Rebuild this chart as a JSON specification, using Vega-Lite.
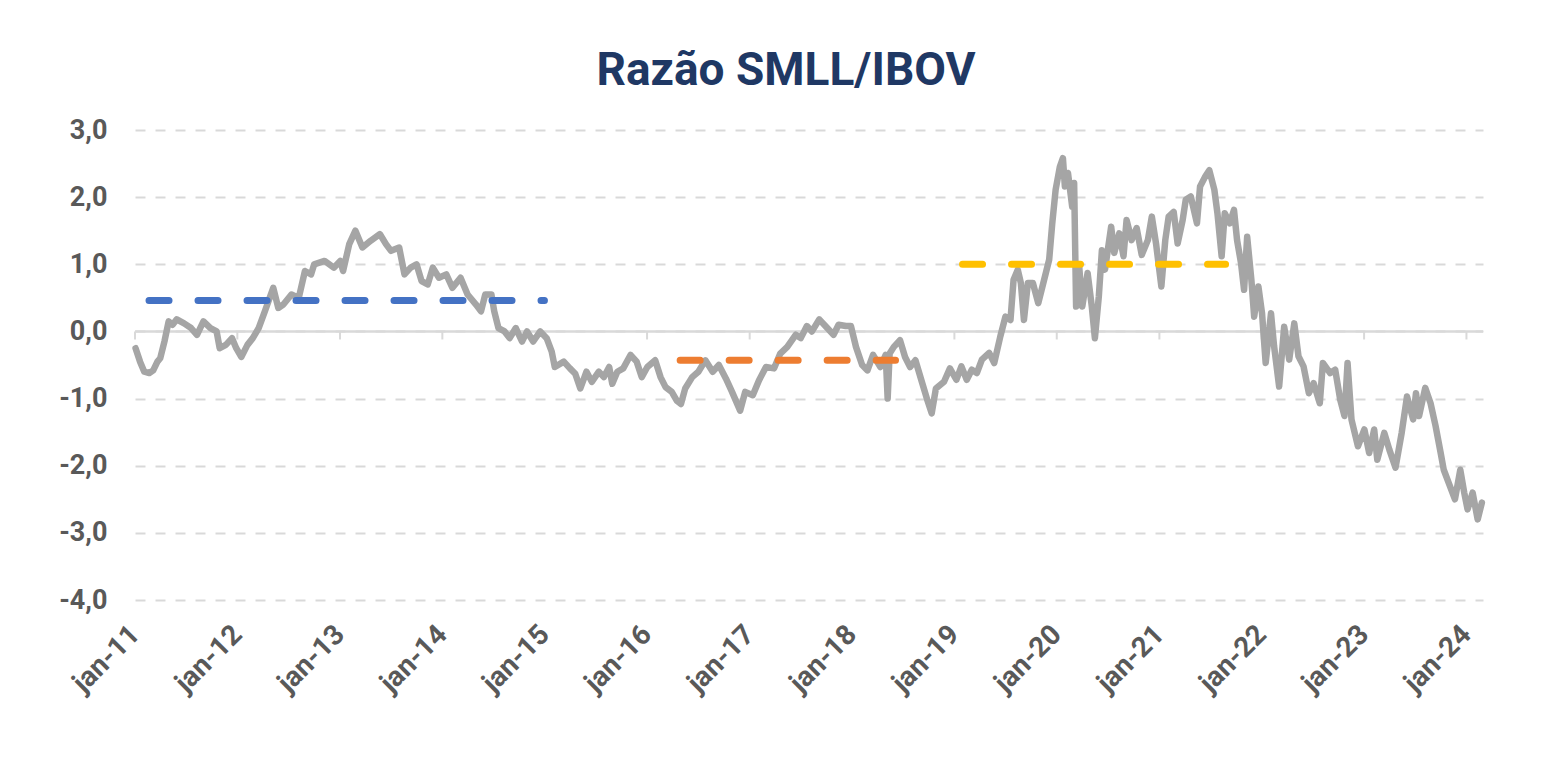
{
  "$schema": "https://vega.github.io/schema/vega-lite/v6.json",
  "width": 1348,
  "height": 470,
  "autosize": {"type": "none"},
  "padding": {"left": 135, "top": 130, "right": 69, "bottom": 166},
  "background": "white",
  "title": {
    "text": "Razão SMLL/IBOV",
    "font": "Roboto",
    "fontSize": 46,
    "fontWeight": "bold",
    "color": "#1F3864",
    "anchor": "middle",
    "baseline": "alphabetic",
    "offset": 45,
    "dx": -23,
    "dy": 60
  },
  "datasets": {
    "ratio": [
      {"date": "2011-01-03", "v": -0.25}, {"date": "2011-01-19", "v": -0.45}, {"date": "2011-02-03", "v": -0.6},
      {"date": "2011-02-21", "v": -0.62}, {"date": "2011-03-07", "v": -0.58}, {"date": "2011-03-22", "v": -0.45},
      {"date": "2011-04-01", "v": -0.4}, {"date": "2011-04-16", "v": -0.15}, {"date": "2011-05-01", "v": 0.15},
      {"date": "2011-05-15", "v": 0.1}, {"date": "2011-05-30", "v": 0.18}, {"date": "2011-06-25", "v": 0.12},
      {"date": "2011-07-20", "v": 0.05}, {"date": "2011-08-10", "v": -0.05}, {"date": "2011-09-02", "v": 0.15},
      {"date": "2011-09-27", "v": 0.05}, {"date": "2011-10-19", "v": 0.0}, {"date": "2011-10-30", "v": -0.25},
      {"date": "2011-11-21", "v": -0.2}, {"date": "2011-12-13", "v": -0.1}, {"date": "2011-12-28", "v": -0.25},
      {"date": "2012-01-15", "v": -0.38}, {"date": "2012-02-06", "v": -0.2}, {"date": "2012-02-25", "v": -0.1},
      {"date": "2012-03-17", "v": 0.05}, {"date": "2012-04-08", "v": 0.3}, {"date": "2012-05-08", "v": 0.65},
      {"date": "2012-05-26", "v": 0.35}, {"date": "2012-06-13", "v": 0.4}, {"date": "2012-07-12", "v": 0.55},
      {"date": "2012-08-07", "v": 0.5}, {"date": "2012-08-29", "v": 0.9}, {"date": "2012-09-20", "v": 0.85},
      {"date": "2012-10-01", "v": 1.0}, {"date": "2012-11-07", "v": 1.05}, {"date": "2012-12-10", "v": 0.95},
      {"date": "2013-01-02", "v": 1.05}, {"date": "2013-01-12", "v": 0.9}, {"date": "2013-02-03", "v": 1.3},
      {"date": "2013-02-25", "v": 1.5}, {"date": "2013-03-22", "v": 1.25}, {"date": "2013-04-20", "v": 1.35},
      {"date": "2013-05-23", "v": 1.45}, {"date": "2013-06-14", "v": 1.3}, {"date": "2013-07-02", "v": 1.2},
      {"date": "2013-07-31", "v": 1.25}, {"date": "2013-08-19", "v": 0.85}, {"date": "2013-09-10", "v": 0.95},
      {"date": "2013-10-01", "v": 1.0}, {"date": "2013-10-19", "v": 0.75}, {"date": "2013-11-10", "v": 0.7},
      {"date": "2013-11-28", "v": 0.95}, {"date": "2013-12-20", "v": 0.8}, {"date": "2014-01-15", "v": 0.85},
      {"date": "2014-02-06", "v": 0.65}, {"date": "2014-03-07", "v": 0.8}, {"date": "2014-04-01", "v": 0.55},
      {"date": "2014-05-01", "v": 0.4}, {"date": "2014-05-19", "v": 0.3}, {"date": "2014-06-03", "v": 0.55},
      {"date": "2014-06-25", "v": 0.55}, {"date": "2014-07-05", "v": 0.3}, {"date": "2014-07-20", "v": 0.05},
      {"date": "2014-08-11", "v": 0.0}, {"date": "2014-08-29", "v": -0.1}, {"date": "2014-09-20", "v": 0.05},
      {"date": "2014-10-12", "v": -0.15}, {"date": "2014-10-30", "v": 0.0}, {"date": "2014-11-21", "v": -0.15},
      {"date": "2014-12-16", "v": 0.0}, {"date": "2015-01-08", "v": -0.1}, {"date": "2015-01-26", "v": -0.3},
      {"date": "2015-02-06", "v": -0.53}, {"date": "2015-03-10", "v": -0.45}, {"date": "2015-04-01", "v": -0.55},
      {"date": "2015-04-20", "v": -0.63}, {"date": "2015-05-08", "v": -0.85}, {"date": "2015-05-30", "v": -0.6},
      {"date": "2015-06-18", "v": -0.75}, {"date": "2015-07-13", "v": -0.6}, {"date": "2015-07-31", "v": -0.68},
      {"date": "2015-08-19", "v": -0.53}, {"date": "2015-08-30", "v": -0.78}, {"date": "2015-09-17", "v": -0.6},
      {"date": "2015-10-08", "v": -0.55}, {"date": "2015-11-03", "v": -0.35}, {"date": "2015-11-25", "v": -0.45},
      {"date": "2015-12-13", "v": -0.68}, {"date": "2016-01-02", "v": -0.53}, {"date": "2016-01-30", "v": -0.43},
      {"date": "2016-02-18", "v": -0.68}, {"date": "2016-03-07", "v": -0.83}, {"date": "2016-03-29", "v": -0.9},
      {"date": "2016-04-16", "v": -1.03}, {"date": "2016-05-01", "v": -1.08}, {"date": "2016-05-16", "v": -0.85},
      {"date": "2016-06-10", "v": -0.68}, {"date": "2016-07-02", "v": -0.6}, {"date": "2016-07-27", "v": -0.43},
      {"date": "2016-08-22", "v": -0.6}, {"date": "2016-09-13", "v": -0.5}, {"date": "2016-10-08", "v": -0.7},
      {"date": "2016-10-30", "v": -0.9}, {"date": "2016-11-28", "v": -1.18}, {"date": "2016-12-16", "v": -0.9},
      {"date": "2017-01-12", "v": -0.95}, {"date": "2017-02-03", "v": -0.73}, {"date": "2017-02-28", "v": -0.53},
      {"date": "2017-03-29", "v": -0.55}, {"date": "2017-04-20", "v": -0.33}, {"date": "2017-05-15", "v": -0.23},
      {"date": "2017-06-14", "v": -0.05}, {"date": "2017-07-02", "v": -0.1}, {"date": "2017-07-24", "v": 0.08},
      {"date": "2017-08-11", "v": 0.0}, {"date": "2017-09-06", "v": 0.18}, {"date": "2017-09-28", "v": 0.08},
      {"date": "2017-10-27", "v": -0.05}, {"date": "2017-11-14", "v": 0.1}, {"date": "2017-12-10", "v": 0.08},
      {"date": "2017-12-28", "v": 0.08}, {"date": "2018-01-15", "v": -0.23}, {"date": "2018-02-06", "v": -0.5},
      {"date": "2018-02-25", "v": -0.58}, {"date": "2018-03-17", "v": -0.35}, {"date": "2018-04-12", "v": -0.53},
      {"date": "2018-05-01", "v": -0.35}, {"date": "2018-05-08", "v": -1.0}, {"date": "2018-05-15", "v": -0.33},
      {"date": "2018-05-30", "v": -0.23}, {"date": "2018-06-21", "v": -0.13}, {"date": "2018-07-09", "v": -0.38},
      {"date": "2018-07-27", "v": -0.53}, {"date": "2018-08-15", "v": -0.43}, {"date": "2018-09-09", "v": -0.78},
      {"date": "2018-09-27", "v": -1.03}, {"date": "2018-10-12", "v": -1.22}, {"date": "2018-10-27", "v": -0.85},
      {"date": "2018-11-25", "v": -0.75}, {"date": "2018-12-16", "v": -0.55}, {"date": "2019-01-08", "v": -0.72},
      {"date": "2019-01-26", "v": -0.52}, {"date": "2019-02-14", "v": -0.72}, {"date": "2019-03-04", "v": -0.57},
      {"date": "2019-03-22", "v": -0.62}, {"date": "2019-04-09", "v": -0.42}, {"date": "2019-05-05", "v": -0.32},
      {"date": "2019-05-23", "v": -0.47}, {"date": "2019-06-14", "v": -0.07}, {"date": "2019-07-02", "v": 0.22},
      {"date": "2019-07-20", "v": 0.17}, {"date": "2019-07-31", "v": 0.77}, {"date": "2019-08-15", "v": 0.92},
      {"date": "2019-08-26", "v": 0.72}, {"date": "2019-09-06", "v": 0.17}, {"date": "2019-09-20", "v": 0.72},
      {"date": "2019-10-08", "v": 0.72}, {"date": "2019-10-27", "v": 0.42}, {"date": "2019-11-14", "v": 0.72},
      {"date": "2019-12-05", "v": 1.07}, {"date": "2019-12-16", "v": 1.61}, {"date": "2019-12-28", "v": 2.11},
      {"date": "2020-01-12", "v": 2.45}, {"date": "2020-01-23", "v": 2.58}, {"date": "2020-01-30", "v": 2.16},
      {"date": "2020-02-10", "v": 2.36}, {"date": "2020-02-25", "v": 1.86}, {"date": "2020-03-03", "v": 2.21},
      {"date": "2020-03-10", "v": 0.37}, {"date": "2020-03-21", "v": 0.97}, {"date": "2020-04-01", "v": 0.37},
      {"date": "2020-04-20", "v": 0.87}, {"date": "2020-05-05", "v": 0.37}, {"date": "2020-05-16", "v": -0.1},
      {"date": "2020-05-30", "v": 0.52}, {"date": "2020-06-10", "v": 1.21}, {"date": "2020-06-21", "v": 0.92},
      {"date": "2020-07-13", "v": 1.56}, {"date": "2020-07-24", "v": 1.17}, {"date": "2020-08-11", "v": 1.46},
      {"date": "2020-08-26", "v": 1.12}, {"date": "2020-09-06", "v": 1.66}, {"date": "2020-09-24", "v": 1.36},
      {"date": "2020-10-12", "v": 1.54}, {"date": "2020-10-30", "v": 1.14}, {"date": "2020-11-21", "v": 1.36},
      {"date": "2020-12-05", "v": 1.71}, {"date": "2020-12-20", "v": 1.31}, {"date": "2021-01-08", "v": 0.67},
      {"date": "2021-01-22", "v": 1.36}, {"date": "2021-02-03", "v": 1.71}, {"date": "2021-02-21", "v": 1.78},
      {"date": "2021-03-07", "v": 1.31}, {"date": "2021-03-25", "v": 1.66}, {"date": "2021-04-05", "v": 1.96},
      {"date": "2021-04-23", "v": 2.01}, {"date": "2021-05-15", "v": 1.61}, {"date": "2021-05-26", "v": 2.16},
      {"date": "2021-06-14", "v": 2.31}, {"date": "2021-06-28", "v": 2.4}, {"date": "2021-07-16", "v": 2.11},
      {"date": "2021-07-27", "v": 1.76}, {"date": "2021-08-11", "v": 1.12}, {"date": "2021-08-22", "v": 1.76},
      {"date": "2021-09-09", "v": 1.61}, {"date": "2021-09-24", "v": 1.81}, {"date": "2021-10-05", "v": 1.36},
      {"date": "2021-10-19", "v": 1.02}, {"date": "2021-10-30", "v": 0.62}, {"date": "2021-11-10", "v": 1.41},
      {"date": "2021-11-25", "v": 0.77}, {"date": "2021-12-05", "v": 0.22}, {"date": "2021-12-20", "v": 0.67},
      {"date": "2022-01-02", "v": 0.27}, {"date": "2022-01-15", "v": -0.47}, {"date": "2022-02-03", "v": 0.27},
      {"date": "2022-02-14", "v": -0.22}, {"date": "2022-03-04", "v": -0.82}, {"date": "2022-03-22", "v": 0.07},
      {"date": "2022-04-09", "v": -0.42}, {"date": "2022-04-27", "v": 0.12}, {"date": "2022-05-12", "v": -0.37},
      {"date": "2022-05-30", "v": -0.52}, {"date": "2022-06-18", "v": -0.92}, {"date": "2022-07-05", "v": -0.77},
      {"date": "2022-07-27", "v": -1.07}, {"date": "2022-08-07", "v": -0.47}, {"date": "2022-09-02", "v": -0.62},
      {"date": "2022-09-20", "v": -0.57}, {"date": "2022-10-08", "v": -1.02}, {"date": "2022-10-23", "v": -1.26},
      {"date": "2022-11-03", "v": -0.47}, {"date": "2022-11-17", "v": -1.31}, {"date": "2022-12-10", "v": -1.71},
      {"date": "2023-01-02", "v": -1.46}, {"date": "2023-01-19", "v": -1.81}, {"date": "2023-02-06", "v": -1.46},
      {"date": "2023-02-17", "v": -1.91}, {"date": "2023-03-14", "v": -1.51}, {"date": "2023-04-01", "v": -1.76},
      {"date": "2023-04-23", "v": -2.03}, {"date": "2023-05-15", "v": -1.51}, {"date": "2023-06-03", "v": -0.97},
      {"date": "2023-06-25", "v": -1.31}, {"date": "2023-07-05", "v": -0.92}, {"date": "2023-07-16", "v": -1.26},
      {"date": "2023-08-07", "v": -0.84}, {"date": "2023-08-26", "v": -1.07}, {"date": "2023-09-13", "v": -1.41},
      {"date": "2023-10-01", "v": -1.81}, {"date": "2023-10-12", "v": -2.06}, {"date": "2023-10-30", "v": -2.26},
      {"date": "2023-11-21", "v": -2.5}, {"date": "2023-12-10", "v": -2.06}, {"date": "2023-12-24", "v": -2.4},
      {"date": "2024-01-05", "v": -2.65}, {"date": "2024-01-23", "v": -2.4}, {"date": "2024-02-10", "v": -2.8},
      {"date": "2024-02-25", "v": -2.55}
    ],
    "medias": [
      {"inicio": "2011-02-20", "fim": "2014-12-31", "v": 0.46, "periodo": "azul"},
      {"inicio": "2016-04-28", "fim": "2018-06-05", "v": -0.43, "periodo": "laranja"},
      {"inicio": "2019-01-30", "fim": "2021-08-25", "v": 1.0, "periodo": "amarelo"}
    ],
    "anos": [
      {"date": "2011-01-01"}, {"date": "2012-01-01"}, {"date": "2013-01-01"}, {"date": "2014-01-01"},
      {"date": "2015-01-01"}, {"date": "2016-01-01"}, {"date": "2017-01-01"}, {"date": "2018-01-01"},
      {"date": "2019-01-01"}, {"date": "2020-01-01"}, {"date": "2021-01-01"}, {"date": "2022-01-01"},
      {"date": "2023-01-01"}, {"date": "2024-01-01"}
    ],
    "zero": [{"v": 0}]
  },
  "layer": [
    {
      "data": {"name": "zero"},
      "mark": {"type": "rule", "color": "#D9D9D9", "strokeWidth": 2.5},
      "encoding": {
        "y": {
          "field": "v",
          "type": "quantitative",
          "scale": {"domain": [-4, 3], "nice": false, "zero": false},
          "axis": {
            "values": [-4, -3, -2, -1, 0, 1, 2, 3],
            "labelExpr": "replace(replace(format(datum.value, '.1f'), '.', ','), '\u2212', '-')",
            "title": null,
            "domain": false,
            "ticks": false,
            "grid": true,
            "gridColor": "#D9D9D9",
            "gridDash": [10, 10],
            "gridWidth": 2,
            "labelFont": "Roboto",
            "labelFontSize": 27,
            "labelFontWeight": "bold",
            "labelColor": "#595959",
            "labelPadding": 28
          }
        }
      }
    },
    {
      "data": {"name": "anos"},
      "mark": {"type": "rule", "color": "#D9D9D9", "strokeWidth": 2},
      "encoding": {
        "x": {
          "field": "date",
          "type": "temporal",
          "scale": {"domain": ["2011-01-01", "2024-02-29"]},
          "axis": {
            "values": ["2011-01-01", "2012-01-01", "2013-01-01", "2014-01-01", "2015-01-01", "2016-01-01", "2017-01-01", "2018-01-01", "2019-01-01", "2020-01-01", "2021-01-01", "2022-01-01", "2023-01-01", "2024-01-01"],
            "labelExpr": "'jan-' + utcFormat(datum.value, '%y')",
            "title": null,
            "domain": false,
            "ticks": false,
            "grid": false,
            "labelAngle": -45,
            "labelAlign": "right",
            "labelBaseline": "middle",
            "labelFont": "Roboto",
            "labelFontSize": 28,
            "labelFontWeight": "bold",
            "labelColor": "#595959",
            "labelPadding": 30
          }
        },
        "y": {"datum": 0, "type": "quantitative"},
        "y2": {"datum": -0.12}
      }
    },
    {
      "data": {"name": "ratio"},
      "mark": {"type": "line", "color": "#A5A5A5", "strokeWidth": 6.5, "strokeJoin": "round", "strokeCap": "round"},
      "encoding": {
        "x": {"field": "date", "type": "temporal"},
        "y": {"field": "v", "type": "quantitative"}
      }
    },
    {
      "data": {"name": "medias"},
      "mark": {"type": "rule", "strokeWidth": 7, "strokeDash": [20, 29], "strokeCap": "round"},
      "encoding": {
        "x": {"field": "inicio", "type": "temporal"},
        "x2": {"field": "fim"},
        "y": {"field": "v", "type": "quantitative"},
        "color": {
          "field": "periodo",
          "type": "nominal",
          "scale": {"domain": ["azul", "laranja", "amarelo"], "range": ["#4472C4", "#ED7D31", "#FFC000"]},
          "legend": null
        }
      }
    }
  ],
  "config": {
    "view": {"stroke": null}
  }
}
